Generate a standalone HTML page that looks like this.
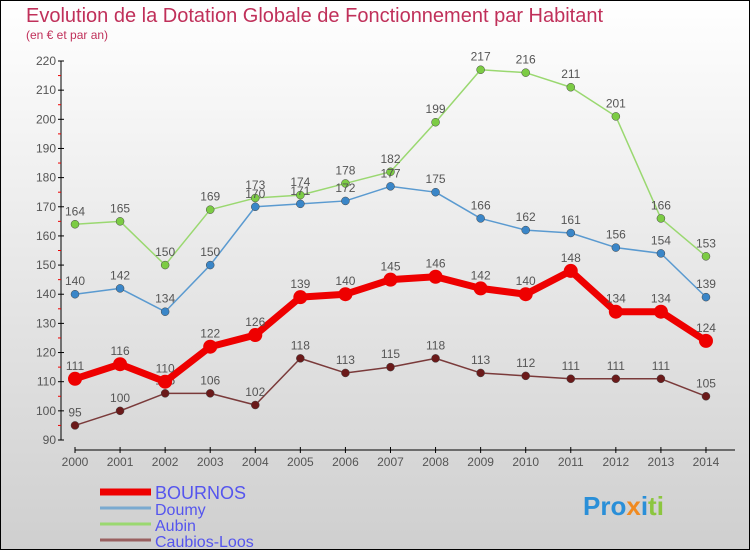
<!DOCTYPE html>
<html><head><meta charset="utf-8"><style>
body{margin:0;width:750px;height:550px;overflow:hidden}
svg{display:block;font-family:"Liberation Sans",sans-serif}
</style></head><body>
<svg width="750" height="550">
<defs><linearGradient id="bg" x1="0" y1="0" x2="0" y2="1"><stop offset="0" stop-color="#ffffff"/><stop offset="1" stop-color="#cfcfcf"/></linearGradient></defs>
<rect x="0.5" y="0.5" width="749" height="549" fill="url(#bg)" stroke="#000"/>
<text x="26" y="22" font-size="20" fill="#c0305a">Evolution de la Dotation Globale de Fonctionnement par Habitant</text>
<text x="26" y="39" font-size="12" fill="#c0305a">(en € et par an)</text>
<g id="axes"></g><g id="series"></g><g id="legend"></g>
<text x="583" y="515" font-size="26" font-weight="bold" fill="#2a8fd8">Pro<tspan fill="#f08a20">x</tspan>i<tspan fill="#8cc63f">ti</tspan></text>
</svg>
<script>
const years=[2000,2001,2002,2003,2004,2005,2006,2007,2008,2009,2010,2011,2012,2013,2014];
const yTicks=[90,100,110,120,130,140,150,160,170,180,190,200,210,220];
const bournos=[111,116,110,122,126,139,140,145,146,142,140,148,134,134,124];
const doumy=[140,142,134,150,170,171,172,177,175,166,162,161,156,154,139];
const aubin=[164,165,150,169,173,174,178,182,199,217,216,211,201,166,153];
const caubios=[95,100,106,106,102,118,113,115,118,113,112,111,111,111,105];
const names=["BOURNOS","Doumy","Aubin","Caubios-Loos"];
const NS="http://www.w3.org/2000/svg";
const xS=i=>75+i*45.07;
const yS=v=>440-(v-90)*(379/130);
function mk(tag,attrs,parent,text){const e=document.createElementNS(NS,tag);for(const k in attrs)e.setAttribute(k,attrs[k]);if(text!==undefined)e.textContent=text;parent.appendChild(e);return e;}
const ax=document.getElementById('axes');
let a=mk('line',{x1:61,y1:61,x2:61,y2:440,stroke:'#000'},ax);


a=mk('line',{x1:75,y1:450,x2:735,y2:450,stroke:'#000'},ax);


yTicks.forEach(v=>{const y=yS(v);
 mk('line',{x1:58,y1:y,x2:64,y2:y,stroke:'#000'},ax);
 if(v<220)mk('line',{x1:58,y1:yS(v+5),x2:61,y2:yS(v+5),stroke:'#e00'},ax);
 const t=mk('text',{x:56,y:y+4,'font-size':12,'text-anchor':'end',fill:'#555'},ax,v);
 
 });
years.forEach((yr,i)=>{const x=xS(i);
 mk('line',{x1:x,y1:447,x2:x,y2:453,stroke:'#000'},ax);
 const t=mk('text',{x:x,y:466,'font-size':12,'text-anchor':'middle',fill:'#555'},ax,yr);
 
 });
const ser=document.getElementById('series');
const defs=[[caubios,'#7a3a3a','#6b1a1a',1.5,4,'caubios'],[aubin,'#9ad870','#7ccc44',1.5,4,'aubin'],[doumy,'#5a9ad0','#3a86c8',1.5,4,'doumy'],[bournos,'#ee0000','#ee0000',7,7,'bournos']];
defs.forEach(([d,lc,pc,w,r,n])=>{
 const g=mk('g',{},ser);
 
 
 const p=mk('polyline',{points:d.map((v,i)=>xS(i)+','+yS(v)).join(' '),fill:'none',stroke:lc,'stroke-width':w,'stroke-linejoin':'round'},g);
 
 
 d.forEach((v,i)=>{const c=mk('circle',{cx:xS(i),cy:yS(v),r:r,fill:pc,stroke:'#444','stroke-width':n==='bournos'?0:0.5},g);
  
  
  const t=mk('text',{x:xS(i),y:yS(v)-9,'font-size':12,'text-anchor':'middle',fill:'#555'},g,v);
  
  });
});
const lg=document.getElementById('legend');
const lcols=['#ee0000','#7aaad0','#9ad870','#9a6060'],lw=[7,3,3,3];
names.forEach((nm,i)=>{const y=492+i*16;
 const g=mk('g',{},lg);
 
 
 mk('line',{x1:100,y1:y,x2:151,y2:y,stroke:lcols[i],'stroke-width':lw[i]},g);
 mk('text',{x:155,y:y+7,'font-size':i===0?18:16,fill:'#5555ee'},g,nm);});
</script>
</body></html>
